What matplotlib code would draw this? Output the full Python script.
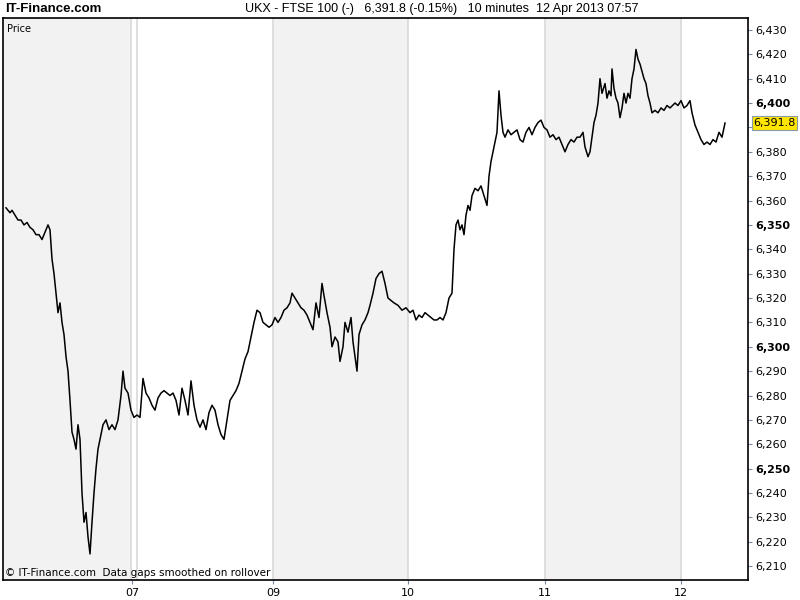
import matplotlib
matplotlib.use('Agg')
import matplotlib.pyplot as plt

# chart positions (compressed trading time, 10-minute bars) and prices
t = [6, 8, 10, 12, 15, 18, 21, 24, 27, 30, 33, 36, 39, 42, 45, 48, 50, 52, 54, 56,
     58, 60, 62, 64, 66, 68, 70, 72, 74, 76, 78, 80, 82, 84, 86, 88, 90, 92, 94, 96,
     98, 100, 103, 106, 109, 112, 115, 118, 121, 123, 125, 128, 131, 134, 137, 140, 143, 146, 149, 152,
     155, 158, 161, 164, 167, 170, 173, 176, 179, 182, 185, 188, 191, 194, 197, 200, 203, 206, 209, 212,
     215, 218, 221, 224, 227, 230, 233, 236, 239, 242, 245, 248, 251, 254, 257, 260, 263, 266, 269, 272,
     275, 278, 281, 284, 287, 290, 292, 295, 298, 301, 304, 307, 310, 313, 316, 319, 322, 324, 327, 330,
     332, 335, 338, 340, 343, 345, 348, 351, 353, 355, 357, 359, 362, 365, 368, 370, 373, 376, 379, 382,
     385, 388, 391, 394, 398, 402, 406, 410, 413, 416, 419, 422, 425, 428, 431, 434, 437, 440, 443, 446,
     449, 452, 454, 456, 458, 460, 462, 464, 466, 468, 470, 472, 475, 478, 481, 484, 487, 489, 491, 493,
     495, 497, 499, 501, 503, 505, 508, 511, 514, 517, 520, 523, 526, 529, 532, 535, 538, 541, 544, 547,
     550, 553, 556, 559, 562, 565, 568, 571, 574, 577, 580, 583, 585, 588, 590, 592, 594, 596, 598, 600,
     602, 605, 607, 609, 611, 612, 614, 616, 618, 620, 622, 624, 626, 628, 630, 632, 634, 636, 638, 640,
     642, 644, 646, 648, 650, 652, 655, 658, 661, 664, 667, 670, 675, 678, 681, 684, 687, 690, 692, 695,
     698, 701, 704, 707, 710, 713, 716, 719, 722, 725]
price = [6357, 6356, 6355, 6356, 6354, 6352, 6352, 6350, 6351, 6349, 6348, 6346, 6346, 6344, 6347, 6350, 6348, 6336, 6330, 6322,
         6314, 6318, 6310, 6305, 6296, 6290, 6278, 6265, 6262, 6258, 6268, 6262, 6240, 6228, 6232, 6222, 6215, 6228, 6240, 6250,
         6258, 6262, 6268, 6270, 6266, 6268, 6266, 6270, 6280, 6290, 6283, 6281, 6274, 6271, 6272, 6271, 6287, 6281, 6279, 6276,
         6274, 6279, 6281, 6282, 6281, 6280, 6281, 6278, 6272, 6283, 6278, 6272, 6286, 6276, 6270, 6267, 6270, 6266, 6273, 6276,
         6274, 6268, 6264, 6262, 6270, 6278, 6280, 6282, 6285, 6290, 6295, 6298, 6304, 6310, 6315, 6314, 6310, 6309, 6308, 6309,
         6312, 6310, 6312, 6315, 6316, 6318, 6322, 6320, 6318, 6316, 6315, 6313, 6310, 6307, 6318, 6312, 6326, 6321, 6314, 6308,
         6300, 6304, 6302, 6294, 6300, 6310, 6306, 6312, 6302, 6296, 6290, 6305, 6309, 6311, 6314, 6317, 6322, 6328, 6330, 6331,
         6326, 6320, 6319, 6318, 6317, 6315, 6316, 6314, 6315, 6311, 6313, 6312, 6314, 6313, 6312, 6311, 6311, 6312, 6311, 6314,
         6320, 6322, 6340, 6350, 6352, 6348, 6350, 6346, 6354, 6358, 6356, 6362, 6365, 6364, 6366, 6362, 6358, 6370, 6376, 6380,
         6384, 6388, 6405, 6395, 6388, 6386, 6389, 6387, 6388, 6389, 6385, 6384, 6388, 6390, 6387, 6390, 6392, 6393, 6390, 6389,
         6386, 6387, 6385, 6386, 6383, 6380, 6383, 6385, 6384, 6386, 6386, 6388, 6382, 6378, 6380, 6386, 6392, 6395, 6400, 6410,
         6404, 6408, 6402, 6405, 6403, 6414, 6406, 6402, 6400, 6394, 6398, 6404, 6400, 6404, 6402, 6410, 6414, 6422, 6418, 6416,
         6413, 6410, 6408, 6403, 6400, 6396, 6397, 6396, 6398, 6397, 6399, 6398, 6400, 6399, 6401, 6398, 6399, 6401, 6396, 6391,
         6388, 6385, 6383, 6384, 6383, 6385, 6384, 6388, 6386, 6391.8]

day_lines = [131, 137, 273, 408, 545, 681]
shaded = [(3, 131), (273, 408), (545, 681)]
xtick_pos = [132, 273, 408, 545, 681]
xtick_lab = ['07', '09', '10', '11', '12']
yticks = list(range(6210, 6431, 10))
bold_ticks = [6250, 6300, 6350, 6400]
last = 6391.8

fig = plt.figure(figsize=(8, 6), dpi=100)
ax = fig.add_axes([3 / 800, 20 / 600, 745 / 800, 562 / 600])

for a, b in shaded:
    ax.axvspan(a, b, color='#f2f2f2', lw=0, zorder=0)
for x in day_lines:
    ax.axvline(x, color='#d9d9d9', lw=1.2, zorder=1)

ax.plot(t, price, color='black', lw=1.1, zorder=3)

ax.set_xlim(3, 748)
ax.set_ylim(6204.3, 6434.9)

ax.yaxis.tick_right()
ax.set_yticks(yticks)
# 6,390 sits under the last-price box, hidden as in the original
ax.set_yticklabels(['' if abs(v - last) < 5 else '{:,}'.format(v) for v in yticks])
for lab, v in zip(ax.get_yticklabels(), yticks):
    if v in bold_ticks:
        lab.set_fontweight('bold')
        lab.set_fontsize(9)
ax.set_xticks(xtick_pos)
ax.set_xticklabels(xtick_lab)
ax.tick_params(axis='y', length=3, color='#7a8a9a', labelsize=8, pad=2)
ax.tick_params(axis='x', length=3, color='#7a8a9a', labelsize=8, pad=3)
for s in ax.spines.values():
    s.set_color('black')
    s.set_linewidth(1.2)

# last price box
ax.text(1.007, (last - 6204.3) / (6434.9 - 6204.3), '{:,.1f}'.format(last),
        transform=ax.transAxes, ha='left', va='center', fontsize=8,
        bbox=dict(boxstyle='square,pad=0.15', fc='#ffe600', ec='#8899aa', lw=0.8))

ax.text(0.005, 0.99, 'Price', transform=ax.transAxes, ha='left', va='top', fontsize=7)
ax.text(0.003, 0.003, '\u00a9 IT-Finance.com  Data gaps smoothed on rollover',
        transform=ax.transAxes, ha='left', va='bottom', fontsize=7.5)

fig.text(5 / 800, 1 - 9 / 600, 'IT-Finance.com', ha='left', va='center',
         fontsize=9.5, fontweight='bold', family=['Liberation Sans Narrow', 'Liberation Sans'])
fig.text(442 / 800, 1 - 9 / 600,
         'UKX - FTSE 100 (-)   6,391.8 (-0.15%)   10 minutes  12 Apr 2013 07:57',
         ha='center', va='center', fontsize=9, family=['Liberation Sans Narrow', 'Liberation Sans'])

fig.savefig('out.png', dpi=100)
